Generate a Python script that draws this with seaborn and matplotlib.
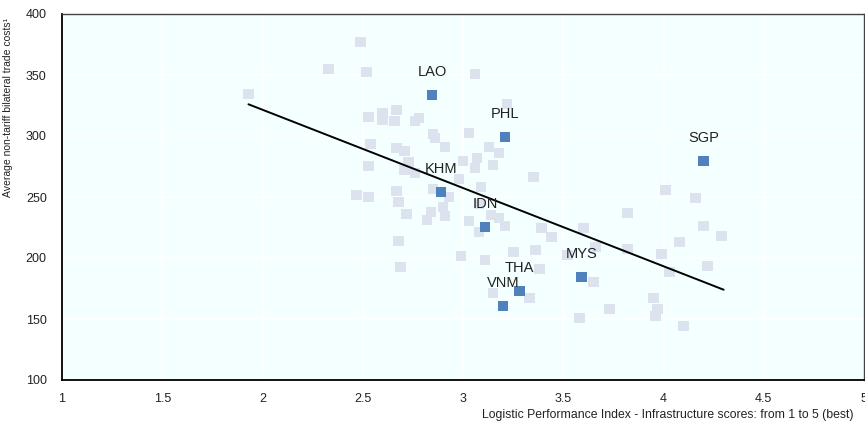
import matplotlib
matplotlib.use("Agg")
import matplotlib.pyplot as plt
import seaborn as sns
import pandas as pd

# ---- data ----
other_x = [1.93, 2.33, 2.49, 2.52, 2.53, 2.60, 2.60, 2.67, 2.66, 2.76, 2.78,
           2.54, 2.67, 2.71, 2.73, 2.53, 2.71, 2.76, 2.47, 2.53, 2.67, 2.68,
           2.72, 2.68, 2.69, 3.06, 3.22, 2.85, 2.86, 2.91, 3.03, 3.13, 3.18,
           3.00, 3.07, 3.06, 3.15, 3.35, 2.98, 2.85, 2.93, 3.09, 3.08, 2.90,
           2.84, 2.82, 2.91, 3.03, 3.14, 3.18, 3.21, 3.08, 3.39, 3.44, 3.60,
           3.82, 3.82, 3.25, 3.36, 2.99, 3.11, 3.38, 3.52, 3.15, 3.33, 3.65,
           3.73, 3.58, 3.66, 4.01, 4.16, 4.20, 4.29, 4.08, 3.99, 4.22, 4.03,
           3.95, 3.97, 3.96, 4.10]
other_y = [334.4, 354.9, 377.0, 352.5, 315.6, 318.9, 313.1, 321.3, 312.3, 312.3, 314.8,
           293.4, 290.2, 287.7, 278.7, 275.4, 272.1, 269.7, 251.6, 250.0, 254.9, 245.9,
           236.1, 213.9, 192.6, 350.8, 326.2, 301.6, 298.4, 291.0, 302.5, 291.0, 286.1,
           279.5, 282.0, 273.8, 276.2, 266.4, 264.8, 256.6, 250.0, 258.2, 244.3, 241.8,
           237.7, 231.1, 234.4, 230.3, 235.2, 232.8, 226.2, 221.3, 224.6, 217.2, 224.6,
           236.9, 207.4, 204.9, 206.6, 201.6, 198.4, 191.0, 202.5, 171.3, 167.2, 180.3,
           158.2, 150.8, 209.0, 255.7, 249.2, 226.2, 218.0, 213.1, 203.3, 193.4, 188.5,
           167.2, 158.2, 152.5, 144.3]

asean_labels = ["LAO", "PHL", "SGP", "KHM", "IDN", "MYS", "THA", "VNM"]
asean_x = [2.845, 3.21, 4.20, 2.89, 3.11, 3.59, 3.28, 3.20]
asean_y = [333.6, 299.2, 279.5, 254.1, 225.4, 184.4, 173.0, 160.7]

trend_x = [1.93, 4.30]
trend_y = [326.0, 174.0]

x_ticks = [1, 1.5, 2, 2.5, 3, 3.5, 4, 4.5, 5]
x_tick_labels = ["1", "1.5", "2", "2.5", "3", "3.5", "4", "4.5", "5"]
y_ticks = [100, 150, 200, 250, 300, 350, 400]

x_title = "Logistic Performance Index - Infrastructure scores: from 1 to 5 (best)"
y_title = "Average non-tariff bilateral trade costs\u00b9"

# ---- styling ----
sns.set_theme(style="white")
plt.rcParams["font.family"] = ["Liberation Sans", "DejaVu Sans"]

grey = "#DCE3EF"
blue = "#4F81BD"

df = pd.concat([
    pd.DataFrame({"x": other_x, "y": other_y, "grp": "other"}),
    pd.DataFrame({"x": asean_x, "y": asean_y, "grp": "asean"}),
], ignore_index=True)

fig = plt.figure(figsize=(8.65, 4.25), dpi=100)
ax = fig.add_axes([62 / 865, 1 - 380 / 425, (864 - 62) / 865, (380 - 14) / 425])
ax.set_facecolor("#F4FFFF")
ax.grid(True, color="white", linewidth=1.3)
ax.set_axisbelow(True)

sns.scatterplot(data=df, x="x", y="y", hue="grp", palette={"other": grey, "asean": blue},
                marker="s", s=60, linewidth=0, legend=False, ax=ax, zorder=3)
sns.lineplot(x=trend_x, y=trend_y, color="black", linewidth=1.4, ax=ax, zorder=4)

for lab, xv, yv in zip(asean_labels, asean_x, asean_y):
    ax.annotate(lab, (xv, yv), xytext=(0, 16.5), textcoords="offset points",
                ha="center", va="center", fontsize=10.5, color="#222222", zorder=5)

ax.set_xlim(1, 5)
ax.set_ylim(100, 400)
ax.set_xticks(x_ticks)
ax.set_xticklabels(x_tick_labels)
ax.set_yticks(y_ticks)
ax.tick_params(axis="both", labelsize=9, colors="#222222")
ax.tick_params(axis="y", length=3, direction="out", pad=8, color="#222222")
ax.tick_params(axis="x", length=0, pad=9)
ax.set_xlabel("")
ax.set_ylabel("")

for side in ["left", "bottom"]:
    ax.spines[side].set_color("black")
    ax.spines[side].set_linewidth(1.3)
for side in ["top", "right"]:
    ax.spines[side].set_color("#444444")
    ax.spines[side].set_linewidth(1.0)

fig.text(853 / 865, 1 - 415 / 425, x_title, ha="right", va="center", fontsize=8.8, color="#222222")
fig.text(8 / 865, 1 - 18 / 425, y_title, ha="center", va="top", rotation=90,
         fontsize=7.5, color="#222222")

fig.savefig("out.png", dpi=100)
